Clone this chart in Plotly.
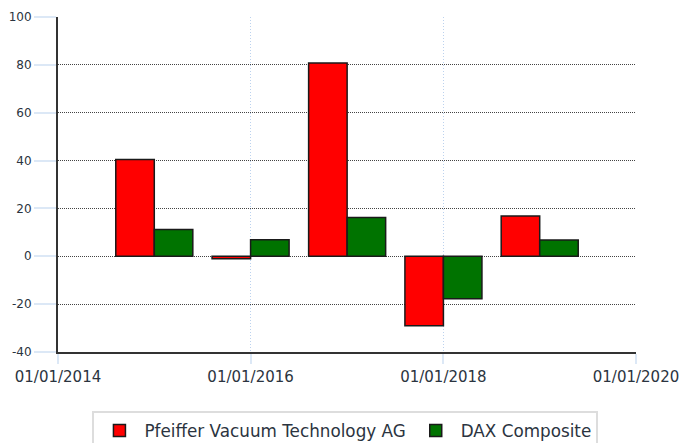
import plotly.graph_objects as go

dates = ["2015-01-01", "2016-01-01", "2017-01-01", "2018-01-01", "2019-01-01"]
pfeiffer = [40.4, -1.0, 80.8, -29.0, 16.8]
dax = [11.2, 6.9, 16.2, -17.7, 6.8]
series_names = ["Pfeiffer Vacuum Technology AG", "DAX Composite"]
tick_dates = ["2014-01-01", "2016-01-01", "2018-01-01", "2020-01-01"]
tick_labels = ["01/01/2014", "01/01/2016", "01/01/2018", "01/01/2020"]
y_ticks = [-40, -20, 0, 20, 40, 60, 80, 100]
y_tick_labels = ["-40", "-20", "0", "20", "40", "60", "80", "100"]

fig = go.Figure()
fig.add_trace(go.Bar(x=dates, y=pfeiffer, name=series_names[0],
                     marker=dict(color="#ff0000", line=dict(color="#1a1a1a", width=1.5))))
fig.add_trace(go.Bar(x=dates, y=dax, name=series_names[1],
                     marker=dict(color="#007300", line=dict(color="#1a1a1a", width=1.5))))

fig.update_layout(
    width=680, height=443,
    margin=dict(l=58, r=44, t=17, b=91),
    paper_bgcolor="white", plot_bgcolor="white",
    barmode="group", bargap=0.2, bargroupgap=0,
    font=dict(family="DejaVu Sans", color="#2b3440"),
    legend=dict(orientation="h", x=0.508, xanchor="center", xref="container",
                y=0.072, yanchor="top", yref="container",
                bordercolor="#dddddd", borderwidth=2,
                font=dict(family="DejaVu Sans", size=16.8, color="#2b3440"),
                itemwidth=40, traceorder="normal"),
    xaxis=dict(type="date", range=["2014-01-01", "2020-01-01"],
               tickvals=tick_dates, ticktext=tick_labels, automargin=False,
               showgrid=True, gridcolor="#bcd2ee", griddash="1px,2px", gridwidth=1,
               showline=True, linecolor="#333333", linewidth=2,
               ticks="outside", ticklen=10, tickcolor="#dce8f6", tickwidth=2,
               tickfont=dict(family="DejaVu Sans", size=15, color="#2b3440"),
               zeroline=False),
    yaxis=dict(range=[-40, 100], tickvals=y_ticks, ticktext=y_tick_labels, automargin=False,
               showgrid=True, gridcolor="#444444", griddash="1px,1px", gridwidth=1,
               showline=True, linecolor="#333333", linewidth=2,
               ticks="outside", ticklen=22, tickcolor="#dce8f6", tickwidth=2,
               tickfont=dict(family="DejaVu Sans", size=12, color="#2b3440"),
               zeroline=False),
)

fig.write_html("out.html", config={"displayModeBar": False},
               post_script="document.body.style.margin='0';document.body.style.overflow='hidden';")
